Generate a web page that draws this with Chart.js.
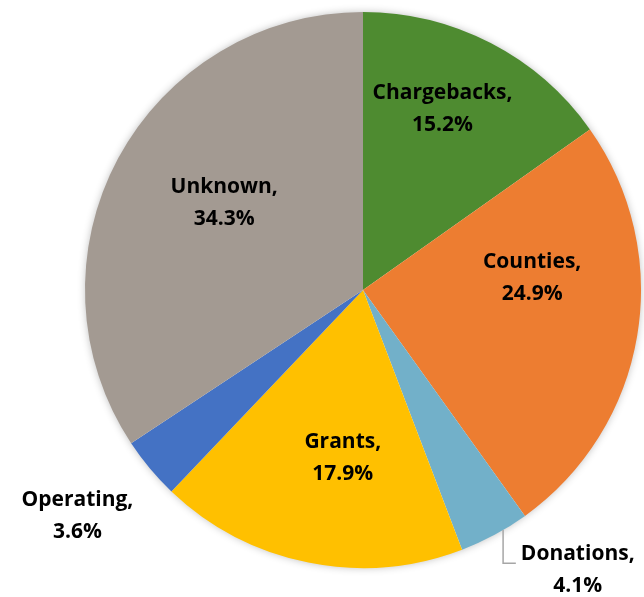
<!DOCTYPE html>
<html>
<head>
<meta charset="utf-8">
<script src="https://cdn.jsdelivr.net/npm/chart.js@4"></script>
<style>
  html, body { margin: 0; padding: 0; background: #fff; }
  #wrap { width: 644px; height: 597px; }
</style>
</head>
<body>
<div id="wrap"><canvas id="my-chart" width="644" height="597"></canvas></div>
<script>
const labels = ['Chargebacks', 'Counties', 'Donations', 'Grants', 'Operating', 'Unknown'];
const shares = [15.2, 24.9, 4.1, 17.9, 3.6, 34.3];
const colors = ['#4E8B30', '#ED7D31', '#72B0C9', '#FFC000', '#4472C4', '#A39A92'];
// where each label sits: fraction of the radius, and a nudge off the slice mid-angle (deg)
const labelRadius = [0.71, 0.61, 1.27, 0.61, 1.31, 0.59];
const labelShift = [-3.6, -13.6, -9.2, -4.5, 1.6, 3.9];

const labelPlugin = {
  id: 'slice_labels',
  beforeDatasetsDraw: (chart) => {
    const ctx = chart.ctx;
    ctx.save();
    ctx.shadowColor = 'rgba(0,0,0,0.30)';
    ctx.shadowBlur = 8;
    const arc = chart.getDatasetMeta(0).data[0];
    ctx.beginPath();
    ctx.arc(arc.x, arc.y, arc.outerRadius - 1, 0, Math.PI * 2);
    ctx.fillStyle = '#fff';
    ctx.fill();
    ctx.restore();
  },
  afterDatasetsDraw: (chart) => {
    const ctx = chart.ctx;
    const meta = chart.getDatasetMeta(0);
    ctx.save();
    ctx.font = 'bold 21px "Open Sans"';
    ctx.fillStyle = '#000';
    ctx.textAlign = 'center';
    ctx.textBaseline = 'middle';
    meta.data.forEach((arc, i) => {
      const mid = (arc.startAngle + arc.endAngle) / 2 + labelShift[i] * Math.PI / 180;
      const r = arc.outerRadius * labelRadius[i];
      const x = arc.x + Math.cos(mid) * r;
      const y = arc.y + Math.sin(mid) * r;
      ctx.fillText(labels[i] + ',', x, y - 16);
      ctx.fillText(shares[i].toFixed(1) + '%', x, y + 16);
      if (i === 2) {
        // leader line from the slice edge to the outside label
        const edgeA = (arc.startAngle + arc.endAngle) / 2 - 2 * Math.PI / 180;
        const ex = arc.x + Math.cos(edgeA) * arc.outerRadius;
        const ey = arc.y + Math.sin(edgeA) * arc.outerRadius;
        const w = ctx.measureText(labels[i] + ',').width;
        ctx.strokeStyle = '#A6A6A6';
        ctx.lineWidth = 1.5;
        ctx.beginPath();
        ctx.moveTo(ex, ey);
        ctx.lineTo(ex, y - 7);
        ctx.lineTo(x - w / 2 - 5, y - 7);
        ctx.stroke();
      }
    });
    ctx.restore();
  }
};

new Chart(document.getElementById('my-chart'), {
  type: 'pie',
  data: {
    labels: labels,
    datasets: [{
      data: shares,
      backgroundColor: colors,
      borderWidth: 0
    }]
  },
  options: {
    responsive: false,
    animation: false,
    layout: { padding: { left: 85, right: 3, top: 12, bottom: 29 } },
    plugins: {
      legend: { display: false },
      tooltip: { enabled: false }
    }
  },
  plugins: [labelPlugin]
});
</script>
</body>
</html>
